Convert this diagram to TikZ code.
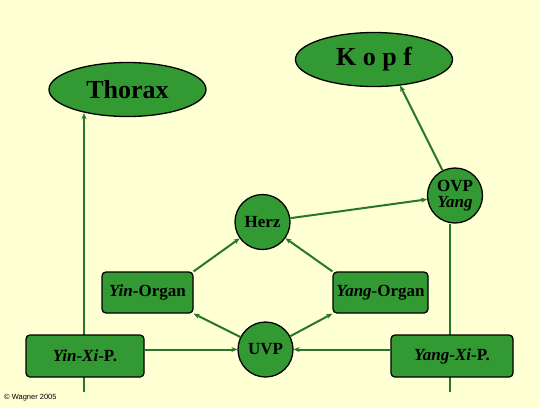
\documentclass[tikz,border=0pt]{standalone}
\usepackage{fontspec}
\setmainfont{Liberation Serif}
\setsansfont{Liberation Sans}
\usepackage{tikz}
\usetikzlibrary{arrows.meta,shapes.geometric,backgrounds}
\definecolor{bgyellow}{RGB}{255,255,212}
\definecolor{nodegreen}{RGB}{51,153,51}
\definecolor{linegreen}{RGB}{38,120,38}

\begin{document}
\begin{tikzpicture}[x=1pt, y=-1pt, font=\bfseries,
  blob/.style={ellipse, draw=black, line width=1.3pt, fill=nodegreen, minimum width=157pt, minimum height=54pt, font=\fontsize{26}{28}\selectfont\bfseries},
  ring/.style={circle, draw=black, line width=1.3pt, fill=nodegreen, minimum size=55pt, inner sep=0pt, align=center, font=\fontsize{17}{18}\selectfont\bfseries},
  organbox/.style={rectangle, rounded corners=4pt, draw=black, line width=1.3pt, fill=nodegreen, minimum height=41pt, inner sep=1pt, font=\fontsize{17}{18}\selectfont\bfseries},
  flow/.style={draw=linegreen, line width=2pt, -{Stealth[length=6pt,width=5pt]}},
  bar/.style={draw=linegreen, line width=2pt}]
\node[blob] (Thorax) at (127.5,89.5) {Thorax};
\node[blob] (Kopf) at (374,59.5) {K o p f};
\node[ring] (Herz) at (262.5,222) {Herz};
\node[ring] (UVP) at (265.5,349.5) {UVP};
\node[ring] (OVP) at (455,195.5) {OVP\\[-2pt]\textit{Yang}};
\node[organbox, minimum width=91pt] (YinOrgan) at (147.5,292.5) {\textit{Yin}-Organ};
\node[organbox, minimum width=95pt] (YangOrgan) at (380.5,292.5) {\textit{Yang}-Organ};
\node[organbox, minimum width=118pt, minimum height=42pt] (YinXi) at (85,356) {\textit{Yin}-\textit{Xi}-P.};
\node[organbox, minimum width=122pt, minimum height=42pt] (YangXi) at (452,356) {\textit{Yang}-\textit{Xi}-P.};
\node[anchor=west, inner sep=0pt, font=\sffamily\fontsize{7.5}{8}\selectfont] (copy) at (4,398) {© Wagner 2005};
\coordinate (yinfoot) at (84,392);
\coordinate (yangfoot) at (450,392);

\begin{scope}[on background layer]
\fill[bgyellow] (0,0) rectangle (540,408);
% meridian lines behind the Xi boxes
\draw[flow, shorten >=-4pt] (yinfoot) -- (yinfoot |- Thorax.south);
\draw[bar] (yangfoot) -- (yangfoot |- OVP.south);
\end{scope}

\draw[flow] (YinXi.east |- UVP.west) -- (UVP.west);
\draw[flow] (YangXi.west |- UVP.east) -- (UVP.east);
\draw[flow] (UVP) -- (YinOrgan.south east);
\draw[flow] (UVP) -- (YangOrgan.south west);
\draw[flow] (YinOrgan.north east) -- (Herz);
\draw[flow] (YangOrgan.north west) -- (Herz);
\draw[flow] (Herz) -- (OVP);
\draw[flow] (OVP) -- (Kopf.-45);
\end{tikzpicture}
\end{document}
